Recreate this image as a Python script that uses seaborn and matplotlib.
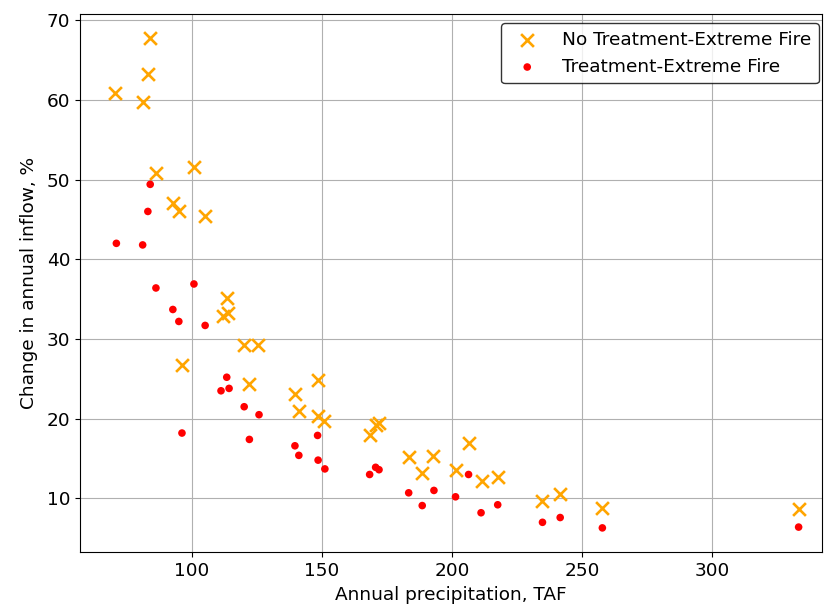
import matplotlib
matplotlib.use("Agg")
import matplotlib.pyplot as plt
import seaborn as sns
import pandas as pd

# Annual precipitation (TAF) and change in annual inflow (%) per scenario
precip_no_treat = [83.9, 83.1, 70.6, 81.1, 86.2, 100.9, 92.7, 95.1, 105.1,
                   113.4, 112.1, 114.0, 120.1, 125.5, 96.2, 122.1, 139.6, 141.1,
                   148.3, 148.5, 150.8, 170.6, 171.9, 168.3, 183.3, 192.8, 188.5,
                   206.3, 201.5, 211.4, 217.5, 234.4, 241.5, 257.7, 333.1]
inflow_no_treat = [67.7, 63.2, 60.8, 59.7, 50.8, 51.6, 47.0, 46.0, 45.4,
                   35.1, 32.9, 33.3, 29.3, 29.2, 26.7, 24.3, 23.1, 21.0,
                   24.8, 20.4, 19.7, 19.2, 19.4, 17.9, 15.2, 15.3, 13.2,
                   16.9, 13.6, 12.2, 12.7, 9.7, 10.5, 8.8, 8.7]

precip_treat = [84.0, 83.1, 71.0, 81.1, 86.2, 100.8, 92.7, 95.0, 105.1,
                113.4, 111.2, 114.3, 120.1, 125.8, 96.2, 122.1, 139.6, 141.1,
                148.3, 148.5, 151.1, 168.3, 170.6, 171.9, 183.3, 188.5, 193.0,
                206.3, 201.3, 211.1, 217.5, 234.7, 241.5, 257.7, 333.1]
inflow_treat = [49.4, 46.0, 42.0, 41.8, 36.4, 36.9, 33.7, 32.2, 31.7,
                25.2, 23.5, 23.8, 21.5, 20.5, 18.2, 17.4, 16.6, 15.4,
                17.9, 14.8, 13.7, 13.0, 13.9, 13.6, 10.7, 9.1, 11.0,
                13.0, 10.2, 8.2, 9.2, 7.0, 7.6, 6.3, 6.4]

labels = ["No Treatment-Extreme Fire", "Treatment-Extreme Fire"]

df_no = pd.DataFrame({"precip": precip_no_treat, "inflow": inflow_no_treat})
df_tr = pd.DataFrame({"precip": precip_treat, "inflow": inflow_treat})

plt.rcParams["font.family"] = ["DejaVu Sans"]
plt.rcParams["font.size"] = 13.3

fig, ax = plt.subplots(figsize=(8.24, 6.09), dpi=100)
fig.subplots_adjust(left=0.097, right=0.997, top=0.977, bottom=0.093)

sns.scatterplot(data=df_no, x="precip", y="inflow", ax=ax, marker="x",
                color="orange", s=85, linewidth=1.9, label=labels[0], zorder=3)
sns.scatterplot(data=df_tr, x="precip", y="inflow", ax=ax, marker="o",
                color="red", s=30, edgecolor="none", label=labels[1], zorder=3)

ax.set_xlim(57.0, 341.9)
ax.set_xlabel("Annual precipitation, TAF")
ax.set_ylabel("Change in annual inflow, %", labelpad=6)
ax.set_xticks([100, 150, 200, 250, 300])
ax.set_yticks([10, 20, 30, 40, 50, 60, 70])
ax.grid(True, color="#b0b0b0", linewidth=0.8)
ax.set_axisbelow(True)

leg = ax.legend(loc="upper right", bbox_to_anchor=(1.009, 1.0), frameon=True,
                fontsize=13.3, handletextpad=0.9)
leg.get_frame().set_edgecolor("black")
leg.get_frame().set_linewidth(1.0)

fig.savefig("out.png", dpi=100)
